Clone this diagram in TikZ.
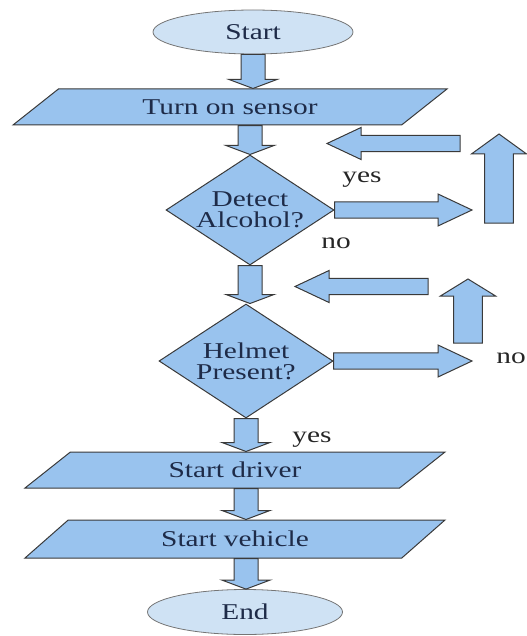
\documentclass[tikz,border=0pt]{standalone}
\usepackage{fontspec}
\newfontfamily\flowfont[FakeStretch=1.3]{Liberation Serif}
\usetikzlibrary{calc, positioning, shapes.geometric}

\definecolor{boxblue}{HTML}{99C3EE}
\definecolor{ovalblue}{HTML}{CFE2F4}
\definecolor{edgegray}{HTML}{3A3A3A}
\definecolor{textnavy}{HTML}{1E2B48}

\begin{document}
\begin{tikzpicture}[x=0.5pt, y=-0.5pt,
    flowtext/.style={font=\flowfont\fontsize{11.3}{10.5}\selectfont, text=textnavy, align=center, inner sep=0pt},
    flowlabel/.style={font=\flowfont\fontsize{11.3}{10.5}\selectfont, text=black!85, inner sep=0pt},
    oval/.style={ellipse, draw=edgegray!70, fill=ovalblue, line width=0.4pt, flowtext},
    iobox/.style={trapezium, trapezium stretches body=true, draw=edgegray, fill=boxblue, line width=0.5pt, flowtext},
    decision/.style={diamond, aspect=1.53, draw=edgegray, fill=boxblue, line width=0.5pt, flowtext},
    blk shaft/.store in=\blkshaft, blk head/.store in=\blkhead, blk tip/.store in=\blktip,
    blockarrow/.style={draw=edgegray, fill=boxblue, line width=0.5pt, line join=miter,
      to path={let \p1=(\tikztostart), \p2=(\tikztotarget),
        \n1={atan2(\y2-\y1,\x2-\x1)}, \n2={veclen(\x2-\x1,\y2-\y1)-\blktip} in
        ($(\p1)+(\n1+90:\blkshaft)$)
        -- ($(\p1)+(\n1:\n2)+(\n1+90:\blkshaft)$)
        -- ($(\p1)+(\n1:\n2)+(\n1+90:\blkhead)$)
        -- (\p2)
        -- ($(\p1)+(\n1:\n2)+(\n1-90:\blkhead)$)
        -- ($(\p1)+(\n1:\n2)+(\n1-90:\blkshaft)$)
        -- ($(\p1)+(\n1-90:\blkshaft)$) -- cycle}},
    downarrow/.style={blockarrow, blk shaft=6pt, blk head=12pt, blk tip=4.5pt},
    sidearrow/.style={blockarrow, blk shaft=4.1pt, blk head=8pt, blk tip=17pt},
    uparrow/.style={blockarrow, blk shaft=7.2pt, blk head=13.8pt, blk tip=10pt}]

    \useasboundingbox (0,0) rectangle (526,636);

    % main flow
    \node[oval, minimum width=100pt, minimum height=22pt] (start) at (253,32) {Start};
    \node[iobox, minimum width=217pt, minimum height=18pt,
          trapezium left angle=18.3, trapezium right angle=161.7] (sensor) at (230,107) {Turn on sensor};
    \node[decision, minimum width=84pt, minimum height=55pt] (alcohol) at (250,210) {Detect\\Alcohol?};
    \node[decision, minimum width=87pt, minimum height=57pt] (helmet) at (246,361) {Helmet\\Present?};
    \node[iobox, minimum width=210pt, minimum height=18pt,
          trapezium left angle=19.3, trapezium right angle=160.7] (driver) at (235,470) {Start driver};
    \node[iobox, minimum width=210pt, minimum height=19pt,
          trapezium left angle=20.2, trapezium right angle=159.8] (vehicle) at (235,539) {Start vehicle};
    \node[oval, minimum width=97.5pt, minimum height=22.5pt] (end) at (245,612) {End};

    \draw[downarrow] (start.south) to (start.south |- sensor.north);
    \draw[downarrow] (alcohol.north |- sensor.south) to (alcohol.north);
    \draw[downarrow] (alcohol.south) to (alcohol.south |- helmet.north);
    \draw[downarrow] (helmet.south) to (helmet.south |- driver.north);
    \draw[downarrow] (helmet.south |- driver.south) to (helmet.south |- vehicle.north);
    \draw[downarrow] (helmet.south |- vehicle.south) to (helmet.south |- end.north);

    % alcohol found: loop back
    \coordinate (alcoholtip) at (472,210);
    \coordinate (alcoholup1) at (499,223);
    \coordinate (alcoholup2) at (499,134);
    \coordinate (alcoholback1) at (460,143.5);
    \coordinate (alcoholback2) at (327,143.5);
    \draw[sidearrow] (alcohol.east) to (alcoholtip);
    \draw[uparrow] (alcoholup1) to (alcoholup2);
    \draw[sidearrow] (alcoholback1) to (alcoholback2);

    % no helmet: loop back
    \coordinate (helmettip) at (472,361);
    \coordinate (helmetup1) at (468,343);
    \coordinate (helmetup2) at (468,279);
    \coordinate (helmetback1) at (428,286.5);
    \coordinate (helmetback2) at (295,286.5);
    \draw[sidearrow] (helmet.east) to (helmettip);
    \draw[uparrow, blk tip=8.5pt] (helmetup1) to (helmetup2);
    \draw[sidearrow] (helmetback1) to (helmetback2);

    % labels
    \node[flowlabel] (yesalcohol) at (362,180) {yes};
    \node[flowlabel] (noalcohol) at (336,243) {no};
    \node[flowlabel, anchor=west] (nohelmet) at (496,358) {no};
    \node[flowlabel] (yeshelmet) at (312,440) {yes};
\end{tikzpicture}
\end{document}
